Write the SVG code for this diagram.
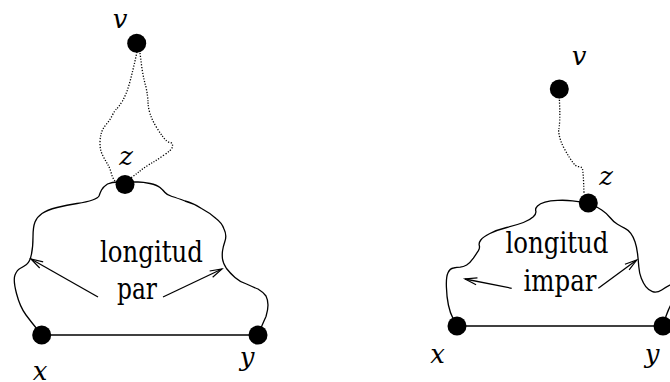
<svg xmlns="http://www.w3.org/2000/svg" width="670" height="382" viewBox="0 0 670 382">
<defs>
<style>
.c{fill:none;stroke:#000;stroke-width:1.3;stroke-linejoin:round;stroke-linecap:round}
.d{fill:none;stroke:#000;stroke-width:1.3;stroke-dasharray:1.2 1.6}
.e{fill:none;stroke:#000;stroke-width:1.6}
.a{fill:none;stroke:#000;stroke-width:1.3;marker-end:url(#ah)}
.n{fill:#000}
</style>
<marker id="ah" markerUnits="userSpaceOnUse" markerWidth="16" markerHeight="10" refX="14" refY="5" orient="auto" overflow="visible">
<path d="M2,1.5 L14,5 L2,8.5" fill="none" stroke="#000" stroke-width="1.2"/>
</marker>
</defs>
<g id="connectors">
<path class="c" d="M 42,335 L 37,329 Q 32,323 26,315 Q 20,307 16.5,293.5 Q 13,280 15,275 Q 17,270 20,268.5 Q 23,267 26.5,264.5 Q 30,262 31.5,254 Q 33,247 33,237 Q 33,227 35,222 Q 37,217 42,213.5 Q 47,210 57,207.5 Q 67,205 77,203.5 Q 87,202 92.5,200 Q 98,198 99,196 Q 100,193 101.5,190 Q 103,187 107.5,184 Q 112,182 118,182 Q 125,182 129,182 Q 133,182 138,182 Q 143,182 150,183.5 Q 157,185 160,187.5 Q 163,190 165,192.5 Q 167,195 172,196.5 Q 177,198 185,201 Q 193,203 201.5,208.5 Q 210,213 216,218.5 Q 222,223 224,229 Q 227,235 225,241 Q 223,247 222.5,251 Q 222,255 222.5,259 Q 223,263 226.5,268.5 Q 230,273 235,277.5 Q 240,282 246.5,284 Q 253,287 258,289 Q 263,292 266,296 Q 268,300 268,305 Q 268,310 266,316.5 Q 263,323 258,335"/>
<path class="d" d="M 137,52 L 135,61 Q 133,70 130,81.5 Q 127,93 122.5,101 Q 118,108 116.5,109 Q 115,110 112.5,115 Q 110,120 106.5,124 Q 103,128 101.5,132.5 Q 100,137 100,143.5 Q 100,150 102.5,155 Q 105,160 107.5,164 Q 110,168 111.5,174 Q 113,180 118,184"/>
<path class="d" d="M 140,53 L 141.5,65 Q 143,77 146,87 Q 148,97 148,102 Q 148,107 150,113.5 Q 152,120 156,126.5 Q 160,133 163.5,137.5 Q 167,142 170,142.5 Q 173,143 172.5,146.5 Q 172,150 164,155 Q 157,160 151,163.5 Q 145,167 140,171 Q 135,175 128,180"/>
<line class="e" x1="42" y1="335" x2="258" y2="335"/>
<line class="a" x1="98" y1="297" x2="31" y2="259"/>
<line class="a" x1="163" y1="297" x2="222" y2="269"/>
<path class="c" d="M 457,326 L 453.5,319.5 Q 450,313 448.4,305 Q 446.7,297 446.4,287 Q 446,277 448,272.8 Q 450,268.5 453.5,268 Q 457,267.3 460.2,267.2 Q 463.3,267 466.7,265 Q 470,263 473.4,258.2 Q 476.7,253.3 478.4,250.7 Q 480,248 479.3,245.5 Q 478.5,243 480.8,240 Q 483,237 489.9,233.5 Q 496.7,230 506.7,227.5 Q 516.7,225 523.4,222.5 Q 530,220 533.3,216.8 Q 536.5,213.5 535.8,211 Q 535,208.5 537.5,206 Q 540,203.5 545,202.1 Q 550,200.7 557.5,200.4 Q 565,200 572.5,200.8 Q 580,201.5 588,203"/>
<path class="c" d="M 588,203 L 592.4,204.9 Q 596.7,206.7 601.7,210 Q 606.7,213.3 610,217.5 Q 613.3,221.7 617.5,224.2 Q 621.7,226.7 625,228.4 Q 628.3,230 630.8,233.4 Q 633.3,236.7 635,241.7 Q 636.7,246.7 637.5,253.4 Q 638.3,260 638.8,266.7 Q 639.3,273.3 641.3,278.3 Q 643.3,283.3 645.8,286.7 Q 648.3,290 652.5,291.7 Q 656.7,293.3 661.7,290 Q 666.7,286.7 674,283"/>
<path class="c" d="M 673,301 Q 667,311 663,326"/>
<path class="d" d="M 559.3,97 L 559.6,105 Q 560,113 559.7,120.7 Q 559.3,128.3 558.8,129.2 Q 558.3,130 559.2,135 Q 560,140 563.3,146.7 Q 566.7,153.3 570,158.3 Q 573.3,163.3 575,165 Q 576.7,166.7 579.2,166.7 Q 581.7,166.7 582.5,169.2 Q 583.3,171.7 584,193"/>
<line class="e" x1="457" y1="326" x2="663" y2="326"/>
<line class="a" x1="511.7" y1="288.3" x2="465" y2="279"/>
<line class="a" x1="598.3" y1="288.3" x2="636.7" y2="260"/>
</g>
<g id="text-left" font-family="DejaVu Serif, serif" font-size="29" text-anchor="middle">
<text x="151.5" y="262" textLength="103" lengthAdjust="spacingAndGlyphs">longitud</text>
<text x="137" y="299" textLength="40" lengthAdjust="spacingAndGlyphs">par</text>
</g>
<g id="text-right" font-family="DejaVu Serif, serif" font-size="29" text-anchor="middle">
<text x="557" y="253" textLength="103" lengthAdjust="spacingAndGlyphs">longitud</text>
<text x="560" y="291" textLength="73" lengthAdjust="spacingAndGlyphs">impar</text>
</g>
<g id="nodes" font-family="DejaVu Serif, serif" font-style="italic" font-size="26" text-anchor="middle">
<g id="v1"><circle class="n" cx="136.7" cy="43.3" r="9.5"/><text x="120" y="28">v</text></g>
<g id="z1"><circle class="n" cx="125" cy="184.5" r="9.5"/><text x="126" y="165">z</text></g>
<g id="x1"><circle class="n" cx="41.7" cy="335" r="9.5"/><text x="40" y="380">x</text></g>
<g id="y1"><circle class="n" cx="258" cy="335" r="9.5"/><text x="247" y="366">y</text></g>
<g id="v2"><circle class="n" cx="559.3" cy="89" r="9.5"/><text x="579" y="65">v</text></g>
<g id="z2"><circle class="n" cx="588.3" cy="203" r="9.5"/><text x="606" y="185">z</text></g>
<g id="x2"><circle class="n" cx="457" cy="326" r="9.5"/><text x="437.5" y="363">x</text></g>
<g id="y2"><circle class="n" cx="663" cy="326" r="9.5"/><text x="652" y="363">y</text></g>
</g>
</svg>
